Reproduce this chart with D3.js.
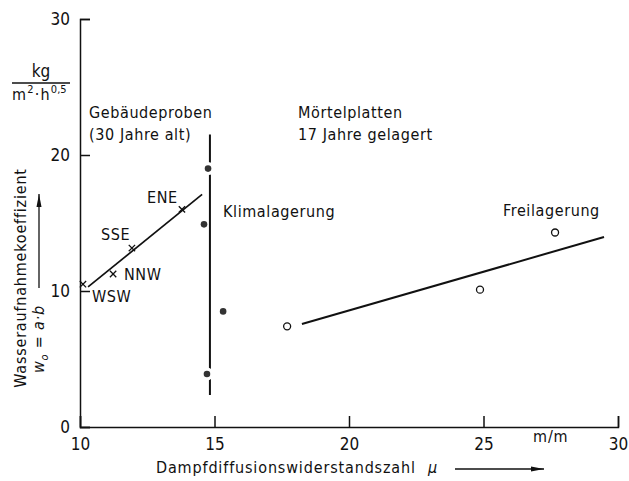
<!DOCTYPE html>
<html>
<head>
<meta charset="utf-8">
<script src="https://cdn.jsdelivr.net/npm/d3@7"></script>
<style>
  body { margin: 0; background: #fff; }
  svg text { font-family: "DejaVu Sans Condensed", "DejaVu Sans", sans-serif; fill: #111; }
</style>
</head>
<body>
<div class="chart"></div>
<script>
"use strict";

// Gebäudeproben (30 Jahre alt), crosses
const crossLabels = ["WSW", "NNW", "SSE", "ENE"];
const crossMu = [10.11, 11.23, 11.93, 13.79];
const crossW = [10.5, 11.25, 13.16, 16.0];
const crossFitMu = [10.3, 14.54];
const crossFitW = [10.3, 17.1];

// Klimalagerung, filled dots
const klimaMu = [14.76, 14.61, 15.32, 14.72];
const klimaW = [19.0, 14.9, 8.5, 3.9];
const klimaLineMu = 14.83;
const klimaLineW = [21.5, 2.35];

// Freilagerung, open circles
const freiMu = [17.7, 24.87, 27.66];
const freiW = [7.4, 10.1, 14.3];
const freiFitMu = [18.25, 29.48];
const freiFitW = [7.57, 13.97];

const xTicks = [10, 15, 20, 25, 30];
const yTicks = [0, 10, 20, 30];

const margin = { top: 19, right: 11, bottom: 54, left: 80 };
const width = 629 - margin.left - margin.right;
const height = 481 - margin.top - margin.bottom;

const root = d3
  .select(".chart")
  .append("svg")
  .attr("width", 629)
  .attr("height", 481);

root
  .append("defs")
  .append("marker")
  .attr("id", "arrow")
  .attr("viewBox", "0 0 13 6")
  .attr("refX", 13)
  .attr("refY", 3)
  .attr("markerWidth", 13)
  .attr("markerHeight", 6)
  .attr("markerUnits", "userSpaceOnUse")
  .attr("orient", "auto")
  .append("path")
  .attr("d", "M0,0.5L13,3L0,5.5Z")
  .attr("fill", "#111");

const svg = root
  .append("g")
  .attr("transform", `translate(${margin.left},${margin.top})`);

const x = d3.scaleLinear().domain([10, 30]).range([0, width]);
const y = d3.scaleLinear().domain([0, 30]).range([height, 0]);

// axes with inward ticks
const xGroup = svg
  .append("g")
  .attr("transform", `translate(0,${height})`)
  .call(d3.axisBottom(x).tickValues(xTicks).tickSize(-11).tickPadding(8));
const yGroup = svg
  .append("g")
  .call(d3.axisLeft(y).tickValues(yTicks).tickSize(-10).tickPadding(10));

[xGroup, yGroup].forEach((g) => {
  g.attr("font-size", null).attr("font-family", null);
  g.selectAll(".domain").attr("stroke", "#111").attr("stroke-width", 1.5);
  g.selectAll(".tick line").attr("stroke", "#111").attr("stroke-width", 1.5);
  g.selectAll(".tick text").attr("font-size", 17).attr("fill", "#111");
});
xGroup.selectAll(".tick text").attr("dy", "0.9em");

// unit on x axis
svg
  .append("text")
  .attr("x", x(27.5))
  .attr("y", height + 15)
  .attr("text-anchor", "middle")
  .attr("font-size", 16)
  .attr("letter-spacing", 0.8)
  .text("m/m");

// unit of y axis (fraction)
const unit = root.append("g");
unit
  .append("text")
  .attr("x", 41)
  .attr("y", 77)
  .attr("text-anchor", "middle")
  .attr("font-size", 17)
  .text("kg");
unit
  .append("line")
  .attr("x1", 12)
  .attr("x2", 70)
  .attr("y1", 83)
  .attr("y2", 83)
  .attr("stroke", "#111")
  .attr("stroke-width", 1.3);
const den = unit
  .append("text")
  .attr("x", 12)
  .attr("y", 100)
  .attr("font-size", 16)
  .attr("letter-spacing", 1.2);
den.append("tspan").text("m");
den.append("tspan").attr("font-size", 11).attr("dy", -7).text("2");
den.append("tspan").attr("dy", 7).text("·h");
den.append("tspan").attr("font-size", 11).attr("dy", -7).attr("letter-spacing", 0).text("0,5");

// axis titles
root
  .append("text")
  .attr("transform", "translate(26,278) rotate(-90)")
  .attr("text-anchor", "middle")
  .attr("font-size", 16)
  .attr("letter-spacing", 0.8)
  .text("Wasseraufnahmekoeffizient");

const wo = root
  .append("text")
  .attr("transform", "translate(44,339) rotate(-90)")
  .attr("text-anchor", "middle")
  .attr("font-size", 16)
  .attr("letter-spacing", 0.8)
  .attr("font-style", "italic");
wo.append("tspan").text("w");
wo.append("tspan").attr("font-size", 11).attr("dy", 4).text("o");
wo.append("tspan").attr("dy", -4).text(" = a·b");

root
  .append("line")
  .attr("x1", 39)
  .attr("x2", 39)
  .attr("y1", 288)
  .attr("y2", 194)
  .attr("stroke", "#111")
  .attr("stroke-width", 1.3)
  .attr("marker-end", "url(#arrow)");

const xt = root
  .append("text")
  .attr("x", 156)
  .attr("y", 473)
  .attr("font-size", 16)
  .attr("letter-spacing", 0.85);
xt.append("tspan").text("Dampfdiffusionswiderstandszahl");
xt.append("tspan").attr("dx", 12).attr("font-style", "italic").text("μ");

root
  .append("line")
  .attr("x1", 455)
  .attr("x2", 544)
  .attr("y1", 469)
  .attr("y2", 469)
  .attr("stroke", "#111")
  .attr("stroke-width", 1.3)
  .attr("marker-end", "url(#arrow)");

// fit lines
const line = d3
  .line()
  .x((d) => x(d[0]))
  .y((d) => y(d[1]));

svg
  .append("path")
  .datum(d3.zip(crossFitMu, crossFitW))
  .attr("d", line)
  .attr("fill", "none")
  .attr("stroke", "#111")
  .attr("stroke-width", 1.7);

svg
  .append("path")
  .datum(klimaLineW.map((w) => [klimaLineMu, w]))
  .attr("d", line)
  .attr("fill", "none")
  .attr("stroke", "#111")
  .attr("stroke-width", 2);

svg
  .append("path")
  .datum(d3.zip(freiFitMu, freiFitW))
  .attr("d", line)
  .attr("fill", "none")
  .attr("stroke", "#111")
  .attr("stroke-width", 2);

// crosses
const cross = d3.symbol(d3.symbolX, 28);
svg
  .selectAll(".cross")
  .data(d3.zip(crossMu, crossW))
  .join("path")
  .attr("class", "cross")
  .attr("transform", (d) => `translate(${x(d[0])},${y(d[1])})`)
  .attr("d", cross)
  .attr("fill", "none")
  .attr("stroke", "#111")
  .attr("stroke-width", 1.3);

// filled dots; the ones sitting on the vertical line break it
const dots = svg
  .selectAll(".dot")
  .data(d3.zip(klimaMu, klimaW))
  .join("g")
  .attr("class", "dot")
  .attr("transform", (d) => `translate(${x(d[0])},${y(d[1])})`);
dots
  .filter((d) => Math.abs(x(d[0]) - x(klimaLineMu)) < 3)
  .append("circle")
  .attr("r", 6.5)
  .attr("fill", "#fff");
dots.append("circle").attr("r", 3.3).attr("fill", "#333");

// open circles
svg
  .selectAll(".open")
  .data(d3.zip(freiMu, freiW))
  .join("circle")
  .attr("class", "open")
  .attr("cx", (d) => x(d[0]))
  .attr("cy", (d) => y(d[1]))
  .attr("r", 3.5)
  .attr("fill", "#fff")
  .attr("stroke", "#111")
  .attr("stroke-width", 1.3);

// annotations
const notes = [
  { t: "Gebäudeproben", x: 89, y: 118 },
  { t: "(30 Jahre alt)", x: 89, y: 140 },
  { t: "Mörtelplatten", x: 298, y: 118 },
  { t: "17 Jahre gelagert", x: 298, y: 140 },
  { t: "Klimalagerung", x: 223, y: 217 },
  { t: "Freilagerung", x: 503, y: 216 },
  { t: crossLabels[3], x: 147, y: 203 },
  { t: crossLabels[2], x: 101, y: 240 },
  { t: crossLabels[1], x: 124, y: 280 },
  { t: crossLabels[0], x: 92, y: 302 }
];
root
  .append("g")
  .selectAll("text")
  .data(notes)
  .join("text")
  .attr("x", (d) => d.x)
  .attr("y", (d) => d.y)
  .attr("font-size", 16)
  .attr("letter-spacing", 0.6)
  .text((d) => d.t);
</script>
</body>
</html>
